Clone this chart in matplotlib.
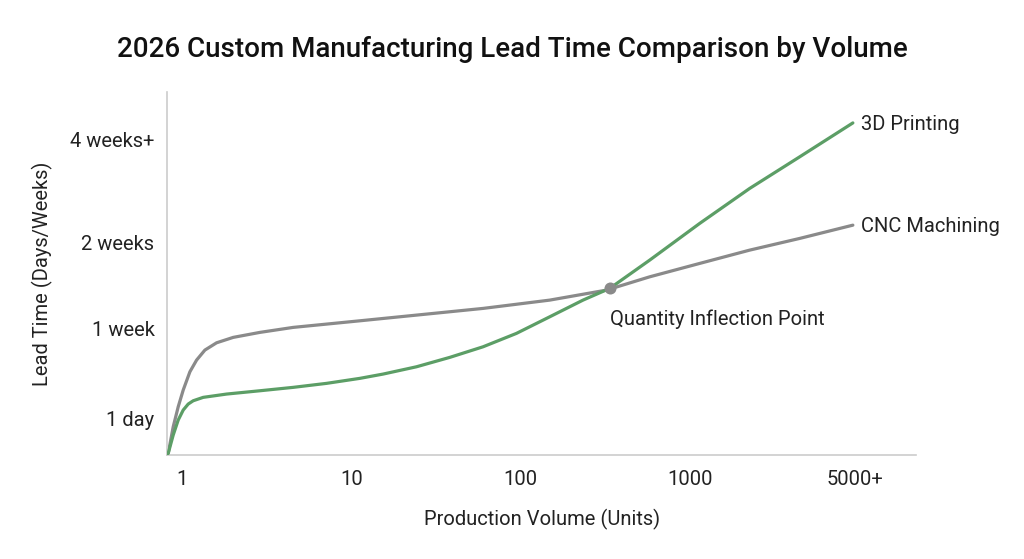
import matplotlib
matplotlib.use("Agg")
import matplotlib.pyplot as plt

# x = position on the volume axis (1, 10, 100, 1000, 5000+), y = lead time scale
x_ticks = [0, 1, 2, 3, 3.97]
x_labels = ["1", "10", "100", "1000", "5000+"]
y_ticks = [37, 127, 213, 316]
y_labels = ["1 day", "1 week", "2 weeks", "4 weeks+"]

cnc_x = [-0.0885, -0.0808, -0.0513, -0.0218, 0.0077, 0.0472, 0.0867, 0.1357,
         0.2047, 0.3027, 0.4602, 0.6566, 0.8537, 1.0501, 1.3847, 1.7776,
         2.1711, 2.5056, 2.7611, 3.0560, 3.3510, 3.6460, 3.9605]
cnc_y = [0, 1.7, 28.3, 48.3, 65, 83.3, 95, 105,
         112.3, 117.7, 122.7, 127.7, 131, 134.3, 140, 146.7,
         155, 165, 178.3, 191.7, 205, 216.7, 230]

printing_x = [-0.0885, -0.0808, -0.0513, -0.0218, 0.0077, 0.0372, 0.0667,
              0.1257, 0.2637, 0.4602, 0.6566, 0.8537, 1.0501, 1.1876, 1.3847,
              1.5811, 1.7776, 1.9746, 2.1711, 2.3676, 2.5251, 2.7611, 3.0560,
              3.3510, 3.6460, 3.9605]
printing_y = [0, 1.7, 20, 35, 45, 51, 54.3,
              57.7, 61, 64.3, 67.7, 71.7, 76.7, 81, 88.3,
              97.7, 108.3, 121.7, 138.3, 155, 166.7, 195, 231.7,
              266.7, 298.3, 332.3]

inflection = (2.525, 167)

plt.rcParams["font.family"] = ["Roboto", "DejaVu Sans"]

fig = plt.figure(figsize=(10.24, 5.59), dpi=100)
ax = fig.add_axes([0.163, 0.186, 0.732, 0.649])

green = "#5c9e66"
gray = "#8a8a8a"
text_color = "#222222"

ax.plot(cnc_x, cnc_y, color=gray, lw=2.3, solid_capstyle="round",
        solid_joinstyle="round", zorder=2)
ax.plot(printing_x, printing_y, color=green, lw=2.3, solid_capstyle="round",
        solid_joinstyle="round", zorder=3)
ax.scatter([inflection[0]], [inflection[1]], s=75, color=gray, zorder=4, linewidths=0)

ax.text(inflection[0], inflection[1] - 31, "Quantity Inflection Point",
        fontsize=14.5, va="center", ha="left", color=text_color)
ax.text(printing_x[-1] + 0.05, printing_y[-1] - 2, "3D Printing",
        fontsize=14.5, va="center", ha="left", color=text_color)
ax.text(cnc_x[-1] + 0.05, cnc_y[-1] - 1, "CNC Machining",
        fontsize=14.5, va="center", ha="left", color=text_color)

ax.set_xlim(-0.0885, 4.336)
ax.set_ylim(0, 363)
ax.set_xticks(x_ticks)
ax.set_xticklabels(x_labels, fontsize=14.5, color=text_color)
ax.set_yticks(y_ticks)
ax.set_yticklabels(y_labels, fontsize=14.5, color=text_color)
ax.tick_params(length=0, pad=9)
ax.tick_params(axis="x", pad=11)

for side in ["top", "right"]:
    ax.spines[side].set_visible(False)
for side in ["left", "bottom"]:
    ax.spines[side].set_color("#cccccc")
    ax.spines[side].set_linewidth(1.2)

ax.set_xlabel("Production Volume (Units)", fontsize=14.5, color=text_color, labelpad=14)
ax.set_ylabel("Lead Time (Days/Weeks)", fontsize=14.5, color=text_color, labelpad=12)

fig.suptitle("2026 Custom Manufacturing Lead Time Comparison by Volume",
             fontsize=20, fontweight="medium", y=0.935, color="#111111")

fig.savefig("out.png", dpi=100, facecolor="white")
